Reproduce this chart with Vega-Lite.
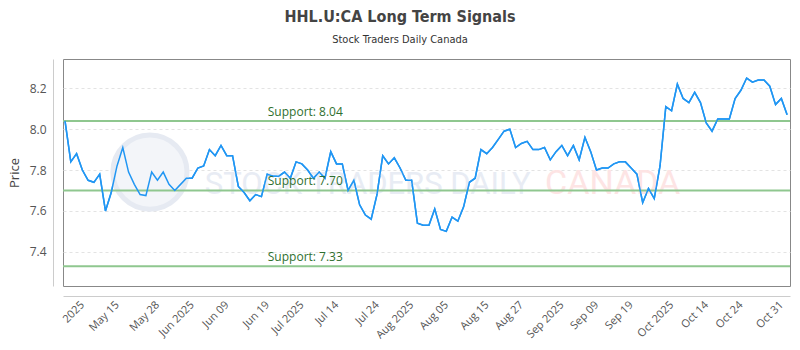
{
  "$schema": "https://vega.github.io/schema/vega-lite/v6.json",
  "width": 727,
  "height": 227,
  "autosize": {"type": "none"},
  "padding": {"left": 63, "top": 59, "right": 10, "bottom": 64},
  "background": "white",
  "title": {
    "text": "HHL.U:CA Long Term Signals",
    "subtitle": "Stock Traders Daily Canada",
    "anchor": "middle",
    "dx": -26.5,
    "offset": 14,
    "font": "DejaVu Sans Condensed, Roboto",
    "fontSize": 16,
    "fontWeight": "bold",
    "color": "#444444",
    "subtitleFont": "DejaVu Sans Condensed, Roboto",
    "subtitleFontSize": 11,
    "subtitleColor": "#333333",
    "subtitlePadding": 9
  },
  "config": {
    "view": {"stroke": "#888888", "strokeWidth": 1},
    "axis": {"labelFont": "Open Sans", "titleFont": "Open Sans", "labelOverlap": false}
  },
  "datasets": {
    "prices": [
      {"n": 0, "price": 8.04}, {"n": 1, "price": 7.84}, {"n": 2, "price": 7.88}, {"n": 3, "price": 7.80},
      {"n": 4, "price": 7.75}, {"n": 5, "price": 7.74}, {"n": 6, "price": 7.78}, {"n": 7, "price": 7.60},
      {"n": 8, "price": 7.69}, {"n": 9, "price": 7.82}, {"n": 10, "price": 7.91}, {"n": 11, "price": 7.79},
      {"n": 12, "price": 7.73}, {"n": 13, "price": 7.68}, {"n": 14, "price": 7.675}, {"n": 15, "price": 7.79},
      {"n": 16, "price": 7.75}, {"n": 17, "price": 7.79}, {"n": 18, "price": 7.73}, {"n": 19, "price": 7.70},
      {"n": 20, "price": 7.73}, {"n": 21, "price": 7.76}, {"n": 22, "price": 7.76}, {"n": 23, "price": 7.81},
      {"n": 24, "price": 7.82}, {"n": 25, "price": 7.90}, {"n": 26, "price": 7.87}, {"n": 27, "price": 7.92},
      {"n": 28, "price": 7.87}, {"n": 29, "price": 7.87}, {"n": 30, "price": 7.72}, {"n": 31, "price": 7.69},
      {"n": 32, "price": 7.65}, {"n": 33, "price": 7.68}, {"n": 34, "price": 7.67}, {"n": 35, "price": 7.78},
      {"n": 36, "price": 7.77}, {"n": 37, "price": 7.77}, {"n": 38, "price": 7.79}, {"n": 39, "price": 7.76},
      {"n": 40, "price": 7.84}, {"n": 41, "price": 7.83}, {"n": 42, "price": 7.80}, {"n": 43, "price": 7.76},
      {"n": 44, "price": 7.79}, {"n": 45, "price": 7.76}, {"n": 46, "price": 7.89}, {"n": 47, "price": 7.83},
      {"n": 48, "price": 7.83}, {"n": 49, "price": 7.70}, {"n": 50, "price": 7.75}, {"n": 51, "price": 7.63},
      {"n": 52, "price": 7.58}, {"n": 53, "price": 7.56}, {"n": 54, "price": 7.68}, {"n": 55, "price": 7.87},
      {"n": 56, "price": 7.83}, {"n": 57, "price": 7.86}, {"n": 58, "price": 7.81}, {"n": 59, "price": 7.75},
      {"n": 60, "price": 7.75}, {"n": 61, "price": 7.54}, {"n": 62, "price": 7.53}, {"n": 63, "price": 7.53},
      {"n": 64, "price": 7.61}, {"n": 65, "price": 7.51}, {"n": 66, "price": 7.50}, {"n": 67, "price": 7.57},
      {"n": 68, "price": 7.55}, {"n": 69, "price": 7.62}, {"n": 70, "price": 7.74}, {"n": 71, "price": 7.76},
      {"n": 72, "price": 7.90}, {"n": 73, "price": 7.88}, {"n": 74, "price": 7.91}, {"n": 75, "price": 7.95},
      {"n": 76, "price": 7.99}, {"n": 77, "price": 8.00}, {"n": 78, "price": 7.91}, {"n": 79, "price": 7.93},
      {"n": 80, "price": 7.94}, {"n": 81, "price": 7.90}, {"n": 82, "price": 7.90}, {"n": 83, "price": 7.91},
      {"n": 84, "price": 7.85}, {"n": 85, "price": 7.89}, {"n": 86, "price": 7.92}, {"n": 87, "price": 7.87},
      {"n": 88, "price": 7.92}, {"n": 89, "price": 7.85}, {"n": 90, "price": 7.96}, {"n": 91, "price": 7.89},
      {"n": 92, "price": 7.80}, {"n": 93, "price": 7.81}, {"n": 94, "price": 7.81}, {"n": 95, "price": 7.83},
      {"n": 96, "price": 7.84}, {"n": 97, "price": 7.84}, {"n": 98, "price": 7.81}, {"n": 99, "price": 7.78},
      {"n": 100, "price": 7.64}, {"n": 101, "price": 7.71}, {"n": 102, "price": 7.66}, {"n": 103, "price": 7.82},
      {"n": 104, "price": 8.11}, {"n": 105, "price": 8.09}, {"n": 106, "price": 8.22}, {"n": 107, "price": 8.15},
      {"n": 108, "price": 8.13}, {"n": 109, "price": 8.18}, {"n": 110, "price": 8.13}, {"n": 111, "price": 8.03},
      {"n": 112, "price": 7.99}, {"n": 113, "price": 8.05}, {"n": 114, "price": 8.05}, {"n": 115, "price": 8.05},
      {"n": 116, "price": 8.15}, {"n": 117, "price": 8.19}, {"n": 118, "price": 8.25}, {"n": 119, "price": 8.23},
      {"n": 120, "price": 8.24}, {"n": 121, "price": 8.24}, {"n": 122, "price": 8.21}, {"n": 123, "price": 8.12},
      {"n": 124, "price": 8.15}, {"n": 125, "price": 8.07}
    ],
    "support": [
      {"level": 8.04, "label": "Support: 8.04"},
      {"level": 7.70, "label": "Support: 7.70"},
      {"level": 7.33, "label": "Support: 7.33"}
    ]
  },
  "layer": [
    {
      "data": {"name": "prices"},
      "mark": {"type": "line", "color": "#2196f3", "strokeWidth": 1.5},
      "encoding": {
        "x": {
          "field": "n",
          "type": "quantitative",
          "scale": {"domain": [-0.35, 125.5], "nice": false, "zero": false},
          "axis": {
            "values": [3, 9, 16, 22, 28, 35, 41, 47, 54, 60, 66, 73, 79, 86, 92, 98, 105, 111, 117, 124],
            "tickCount": 40,
            "labelExpr": "['2025','May 15','May 28','Jun 2025','Jun 09','Jun 19','Jul 2025','Jul 14','Jul 24','Aug 2025','Aug 05','Aug 15','Aug 27','Sep 2025','Sep 09','Sep 19','Oct 2025','Oct 14','Oct 24','Oct 31'][indexof([3, 9, 16, 22, 28, 35, 41, 47, 54, 60, 66, 73, 79, 86, 92, 98, 105, 111, 117, 124], datum.value)]",
            "labelAngle": -45,
            "labelAlign": "right",
            "labelBaseline": "middle",
            "labelPadding": 7,
            "labelFontSize": 11,
            "labelColor": "#555555",
            "labelOverlap": false,
            "offset": 10,
            "domainColor": "#cccccc",
            "ticks": false,
            "grid": false,
            "title": null
          }
        },
        "y": {
          "field": "price",
          "type": "quantitative",
          "scale": {"domain": [7.233, 8.343], "nice": false, "zero": false},
          "axis": {
            "values": [7.4, 7.6, 7.8, 8.0, 8.2],
            "format": ".1f",
            "offset": 10,
            "domainColor": "#cccccc",
            "ticks": false,
            "grid": true,
            "gridDash": [3, 3],
            "gridColor": "#e3e3e3",
            "labelColor": "#555555",
            "labelFontSize": 12,
            "labelPadding": 7,
            "title": "Price",
            "titleFontWeight": "normal",
            "titleFontSize": 13,
            "titleColor": "#444444",
            "titlePadding": 8
          }
        }
      }
    },
    {
      "data": {"values": [{}]},
      "mark": {"type": "point", "filled": true, "shape": "circle", "size": 5500, "fill": "#f3f5f9", "stroke": "#e6eaf2", "strokeWidth": 5, "opacity": 1},
      "encoding": {
        "x": {"datum": 14.7, "type": "quantitative"},
        "y": {"datum": 7.79, "type": "quantitative"}
      }
    },
    {
      "data": {"values": [{}]},
      "mark": {"type": "text", "text": "STOCK TRADERS DAILY", "align": "left", "baseline": "alphabetic", "font": "Roboto", "fontSize": 31, "color": "#e8ecf4"},
      "encoding": {
        "x": {"datum": 24.2, "type": "quantitative"},
        "y": {"datum": 7.685, "type": "quantitative"}
      }
    },
    {
      "data": {"values": [{}]},
      "mark": {"type": "text", "text": "CANADA", "align": "left", "baseline": "alphabetic", "font": "Roboto", "fontSize": 34, "color": "#fde4e4"},
      "encoding": {
        "x": {"datum": 83.1, "type": "quantitative"},
        "y": {"datum": 7.685, "type": "quantitative"}
      }
    },
    {
      "data": {"name": "support"},
      "mark": {"type": "rule", "color": "#8fc78f", "strokeWidth": 2},
      "encoding": {
        "y": {"field": "level", "type": "quantitative"}
      }
    },
    {
      "data": {"name": "prices"},
      "mark": {"type": "line", "color": "#2196f3", "strokeWidth": 1.5},
      "encoding": {
        "x": {"field": "n", "type": "quantitative"},
        "y": {"field": "price", "type": "quantitative"}
      }
    },
    {
      "data": {"name": "support"},
      "mark": {"type": "text", "align": "left", "baseline": "alphabetic", "dy": -5, "color": "#2f6f2f", "font": "Open Sans", "fontSize": 12},
      "encoding": {
        "x": {"datum": 35.1, "type": "quantitative"},
        "y": {"field": "level", "type": "quantitative"},
        "text": {"field": "label"}
      }
    }
  ]
}
